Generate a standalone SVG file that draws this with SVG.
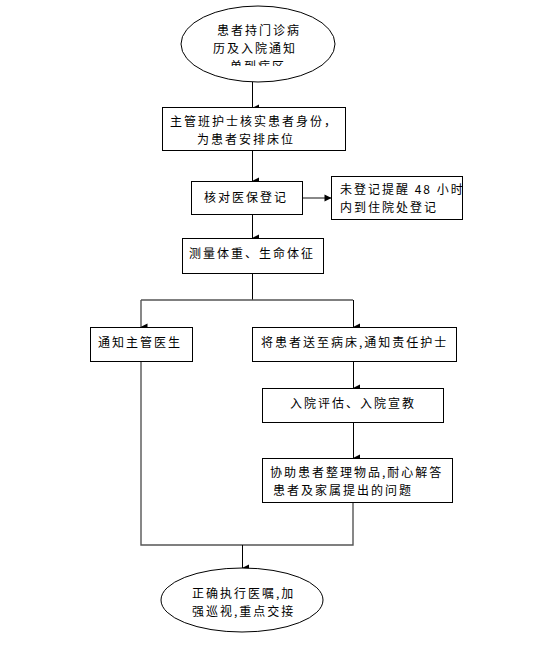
<svg xmlns="http://www.w3.org/2000/svg" width="535" height="647" viewBox="0 0 535 647">
<style>
.b{fill:#fff;stroke:#000;stroke-width:1}
.t{font-family:"Noto Sans CJK SC","Noto Sans CJK JP",sans-serif;font-size:12px;letter-spacing:2px;fill:#000}
.c{fill:none;stroke:#000;stroke-width:1}
.g{fill:none;stroke:#555;stroke-width:1.4}
</style>
<defs>
<marker id="ah" markerUnits="userSpaceOnUse" markerWidth="8" markerHeight="8" refX="4" refY="7" orient="auto-start-reverse" viewBox="0 0 8 8">
<path d="M0.5,0.5 L7.5,0.5 L4,7.5 Z" fill="#000"/>
</marker>
<marker id="ar" markerUnits="userSpaceOnUse" markerWidth="8" markerHeight="8" refX="7" refY="4" viewBox="0 0 8 8">
<path d="M0.5,0.5 L7.5,4 L0.5,7.5 Z" fill="#000"/>
</marker>
<clipPath id="cl1"><rect x="180" y="0" width="160" height="66"/></clipPath>
</defs>
<g id="connectors">
<path class="c" d="M252.5,82 V108" marker-end="url(#ah)"/>
<path class="c" d="M252.5,150 V181" marker-end="url(#ah)"/>
<path class="g" d="M302,198 H331" marker-end="url(#ar)"/>
<path class="c" d="M252.5,214 V238" marker-end="url(#ah)"/>
<path class="c" d="M252.5,273 V300"/>
<path class="g" d="M141,300 H353"/>
<path class="g" d="M141,300 V327" marker-end="url(#ah)"/>
<path class="c" d="M353.5,300 V327" marker-end="url(#ah)"/>
<path class="c" d="M353.5,361 V388" marker-end="url(#ah)"/>
<path class="c" d="M353.5,422 V458" marker-end="url(#ah)"/>
<path class="g" d="M141,361 V545 H353 V502"/>
<path class="c" d="M242.5,545 V568" marker-end="url(#ah)"/>
</g>
<g id="n1">
<ellipse class="b" cx="258" cy="44" rx="77" ry="38"/>
<text class="t" x="217" y="35">患者持门诊病</text>
<text class="t" x="213" y="53">历及入院通知</text>
<text class="t" x="230" y="71" clip-path="url(#cl1)">单到病区</text>
</g>
<g id="n2">
<rect class="b" x="162.5" y="107.5" width="183" height="43"/>
<text class="t" x="170" y="125.5">主管班护士核实患者身份，</text>
<text class="t" x="197" y="143.5">为患者安排床位</text>
</g>
<g id="n3">
<rect class="b" x="191.5" y="181.5" width="111" height="33"/>
<text class="t" x="204" y="202">核对医保登记</text>
</g>
<g id="n4">
<rect class="b" x="331.5" y="176.5" width="131" height="43"/>
<text class="t" x="340" y="193.5">未登记提醒 48 小时</text>
<text class="t" x="340" y="211.5">内到住院处登记</text>
</g>
<g id="n5">
<rect class="b" x="182.5" y="238.5" width="141" height="35"/>
<text class="t" x="189" y="258">测量体重、生命体征</text>
</g>
<g id="n6">
<rect class="b" x="90.5" y="327.5" width="102" height="34"/>
<text class="t" x="98" y="347">通知主管医生</text>
</g>
<g id="n7">
<rect class="b" x="252.5" y="327.5" width="204" height="34"/>
<text class="t" x="261" y="347">将患者送至病床,通知责任护士</text>
</g>
<g id="n8">
<rect class="b" x="262.5" y="388.5" width="181" height="34"/>
<text class="t" x="290" y="408">入院评估、入院宣教</text>
</g>
<g id="n9">
<rect class="b" x="262.5" y="458.5" width="190" height="44"/>
<text class="t" x="270" y="476.5">协助患者整理物品,耐心解答</text>
<text class="t" x="273" y="494.5">患者及家属提出的问题</text>
</g>
<g id="n10">
<ellipse class="b" cx="242" cy="600" rx="81" ry="32"/>
<text class="t" x="192" y="597.5">正确执行医嘱,加</text>
<text class="t" x="192" y="615.5">强巡视,重点交接</text>
</g>
</svg>
